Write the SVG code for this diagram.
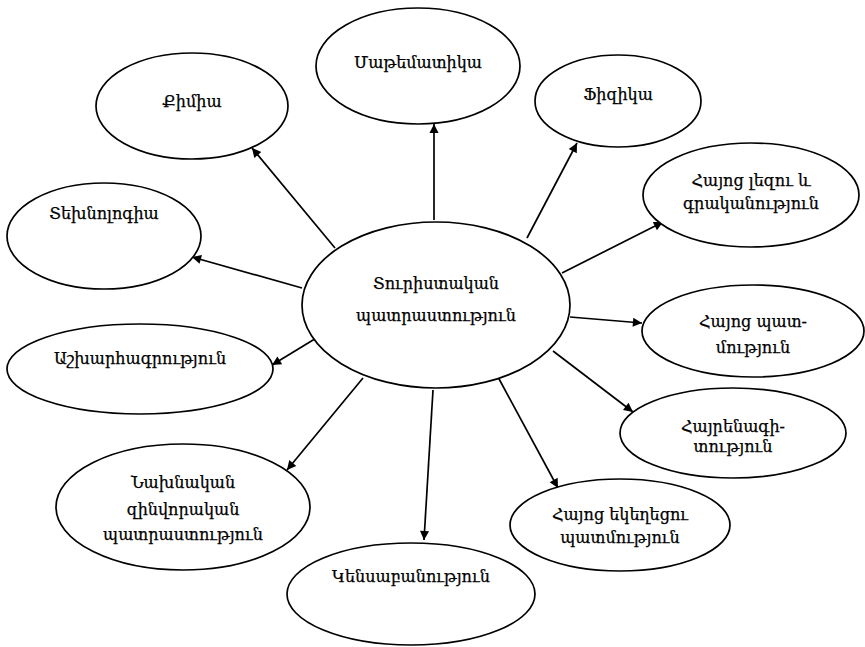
<svg xmlns="http://www.w3.org/2000/svg" width="865" height="647" viewBox="0 0 865 647">
<style>
.n ellipse{fill:#fff;stroke:#000;stroke-width:1.7}
.n text{font-family:"DejaVu Serif","Noto Sans",serif;font-size:16px;fill:#000;stroke:#000;stroke-width:0.25;text-anchor:middle}
.c line{stroke:#000;stroke-width:1.7;marker-end:url(#ah)}
</style>
<defs>
<marker id="ah" viewBox="0 0 10 10" refX="10" refY="5" markerWidth="7" markerHeight="7" markerUnits="userSpaceOnUse" orient="auto" overflow="visible">
<path d="M0,0 L10,5 L0,10 z" fill="#000" transform="scale(1.3) translate(-2.3,-1.15)"/>
</marker>
</defs>
<rect width="865" height="647" fill="#fff"/>
<g class="c">
<line x1="434" y1="220" x2="434" y2="124"/>
<line x1="335" y1="248" x2="252" y2="148"/>
<line x1="527" y1="238" x2="577" y2="143"/>
<line x1="562" y1="273" x2="663" y2="222"/>
<line x1="302" y1="288" x2="192" y2="257"/>
<line x1="318" y1="337" x2="272" y2="365"/>
<line x1="363" y1="378" x2="287" y2="470"/>
<line x1="433" y1="390" x2="424" y2="540"/>
<line x1="498" y1="377" x2="558" y2="488"/>
<line x1="553" y1="351" x2="633" y2="412"/>
<line x1="570" y1="317" x2="642" y2="323"/>
</g>
<g id="center" class="n"><ellipse cx="436" cy="305" rx="134" ry="83"/><text x="436" y="289">Տուրիստական</text><text x="436" y="321">պատրաստություն</text></g>
<g id="math" class="n"><ellipse cx="418" cy="66" rx="102" ry="58"/><text x="418" y="68">Մաթեմատիկա</text></g>
<g id="chem" class="n"><ellipse cx="192" cy="106" rx="96" ry="53"/><text x="192" y="107">Քիմիա</text></g>
<g id="phys" class="n"><ellipse cx="618" cy="101" rx="83" ry="46"/><text x="618" y="100">Ֆիզիկա</text></g>
<g id="armlang" class="n"><ellipse cx="751" cy="195" rx="108" ry="52"/><text x="751" y="186">Հայոց լեզու և</text><text x="751" y="209">գրականություն</text></g>
<g id="tech" class="n"><ellipse cx="104" cy="236" rx="97" ry="53"/><text x="104" y="219">Տեխնոլոգիա</text></g>
<g id="geo" class="n"><ellipse cx="140" cy="369" rx="133" ry="45"/><text x="140" y="364">Աշխարհագրություն</text></g>
<g id="armhist" class="n"><ellipse cx="753" cy="331" rx="111" ry="46"/><text x="753" y="327">Հայոց պատ-</text><text x="753" y="353">մություն</text></g>
<g id="homeland" class="n"><ellipse cx="733" cy="433" rx="113" ry="45"/><text x="733" y="432">Հայրենագի-</text><text x="733" y="452">տություն</text></g>
<g id="church" class="n"><ellipse cx="620" cy="525" rx="110" ry="46"/><text x="620" y="520">Հայոց եկեղեցու</text><text x="620" y="543">պատմություն</text></g>
<g id="bio" class="n"><ellipse cx="411" cy="594" rx="124" ry="51"/><text x="411" y="582">Կենսաբանություն</text></g>
<g id="military" class="n"><ellipse cx="183" cy="507" rx="127" ry="63"/><text x="183" y="488">Նախնական</text><text x="183" y="515">զինվորական</text><text x="183" y="540">պատրաստություն</text></g>
</svg>
